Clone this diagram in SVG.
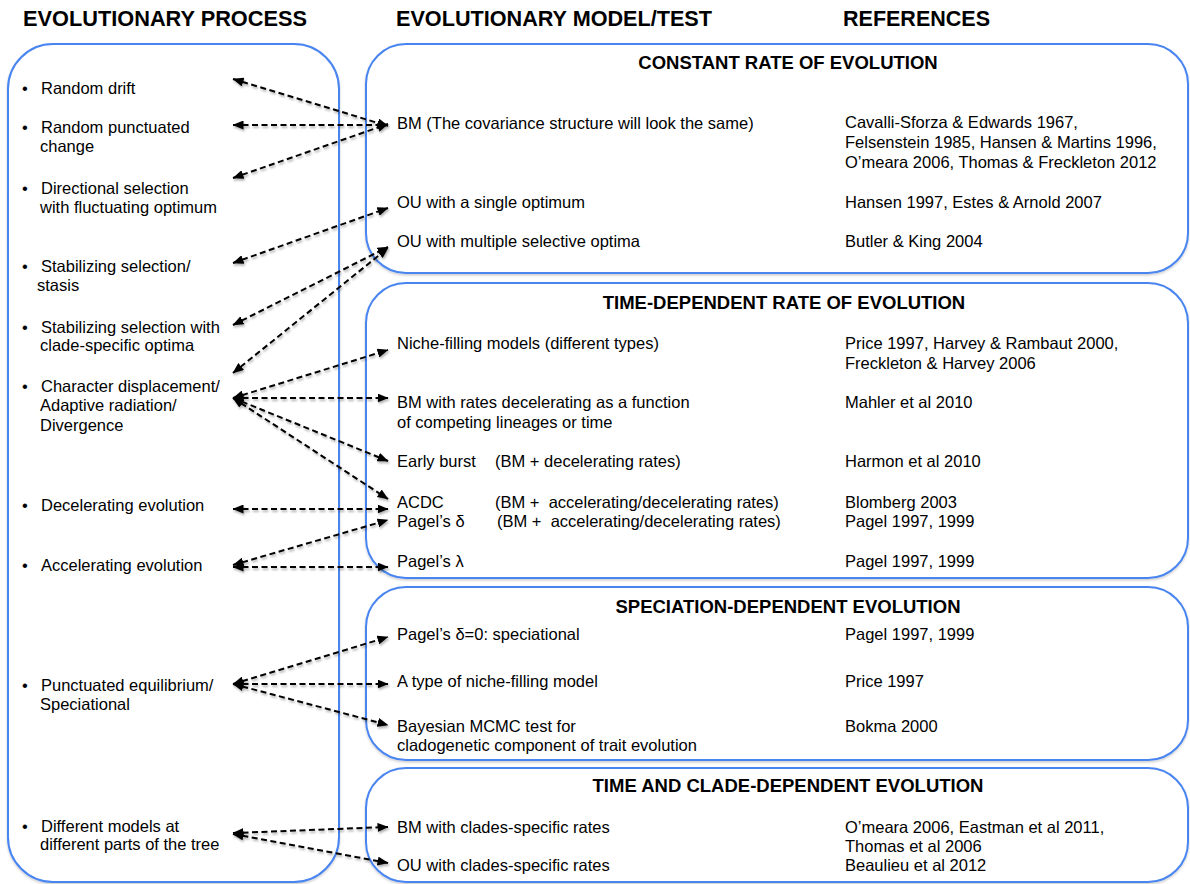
<svg xmlns="http://www.w3.org/2000/svg" width="1190" height="884" viewBox="0 0 1190 884">
<style>
  .hdr { font-family: "Liberation Sans", Arial, sans-serif; font-weight: bold; font-size: 21.7px; fill: #000; }
  .ttl { font-family: "Liberation Sans", Arial, sans-serif; font-weight: bold; font-size: 18.5px; fill: #000; text-anchor: middle; }
  .t { font-family: "Liberation Sans", Arial, sans-serif; font-size: 16.5px; fill: #000; }
  .box { fill: #fff; stroke: #4a85f0; stroke-width: 2; filter: url(#bshadow); }
  .con { fill: none; stroke: #000; stroke-width: 2; stroke-dasharray: 6 3.5; marker-start: url(#ah); marker-end: url(#ah); }
</style>
<defs>
  <marker id="ah" viewBox="0 0 11 9" refX="10.5" refY="4.5" markerWidth="11" markerHeight="9" markerUnits="userSpaceOnUse" orient="auto-start-reverse">
    <path d="M0,0 L11,4.5 L0,9 z" fill="#000"/>
  </marker>
  <filter id="shadow" filterUnits="userSpaceOnUse" x="0" y="0" width="1190" height="884">
    <feDropShadow dx="1" dy="2" stdDeviation="1.2" flood-color="#000" flood-opacity="0.3"/>
  </filter>
  <filter id="bshadow" filterUnits="userSpaceOnUse" x="0" y="0" width="1190" height="884">
    <feDropShadow dx="0" dy="1.5" stdDeviation="1.2" flood-color="#000" flood-opacity="0.2"/>
  </filter>
</defs>
<rect width="1190" height="884" fill="#fff"/>

<g id="headers">
  <text class="hdr" x="23" y="26" textLength="284" lengthAdjust="spacingAndGlyphs">EVOLUTIONARY PROCESS</text>
  <text class="hdr" x="396" y="26" textLength="316" lengthAdjust="spacingAndGlyphs">EVOLUTIONARY MODEL/TEST</text>
  <text class="hdr" x="843" y="26" textLength="147" lengthAdjust="spacingAndGlyphs">REFERENCES</text>
</g>

<g id="process-box"><rect class="box" x="8" y="44" width="331" height="838" rx="45" ry="45"/></g>
<g id="constant-box"><rect class="box" x="366" y="44" width="822" height="229" rx="40" ry="40"/></g>
<g id="time-box"><rect class="box" x="366" y="283" width="822" height="295" rx="40" ry="40"/></g>
<g id="speciation-box"><rect class="box" x="366" y="587" width="822" height="173" rx="40" ry="40"/></g>
<g id="clade-box"><rect class="box" x="366" y="768" width="822" height="114" rx="40" ry="40"/></g>

<g id="connectors" filter="url(#shadow)">
  <line class="con" x1="233" y1="79" x2="388" y2="126"/>
  <line class="con" x1="233" y1="125" x2="388" y2="125"/>
  <line class="con" x1="233" y1="178" x2="388" y2="124"/>
  <line class="con" x1="233" y1="263" x2="388" y2="208"/>
  <line class="con" x1="233" y1="325" x2="388" y2="247"/>
  <line class="con" x1="233" y1="373" x2="388" y2="248"/>
  <line class="con" x1="233" y1="398" x2="388" y2="350"/>
  <line class="con" x1="233" y1="398" x2="388" y2="398"/>
  <line class="con" x1="233" y1="398" x2="388" y2="461"/>
  <line class="con" x1="233" y1="398" x2="388" y2="499"/>
  <line class="con" x1="233" y1="509" x2="388" y2="509"/>
  <line class="con" x1="233" y1="565" x2="388" y2="520"/>
  <line class="con" x1="233" y1="567" x2="388" y2="567"/>
  <line class="con" x1="233" y1="684" x2="388" y2="637"/>
  <line class="con" x1="233" y1="684" x2="388" y2="684"/>
  <line class="con" x1="233" y1="684" x2="388" y2="725"/>
  <line class="con" x1="233" y1="833" x2="388" y2="827"/>
  <line class="con" x1="233" y1="834" x2="388" y2="863"/>
</g>

<g id="process-items">
  <g id="p-drift"><text class="t" x="22" y="94">•</text><text class="t" x="41" y="94">Random drift</text></g>
  <g id="p-punct"><text class="t" x="22" y="133">•</text><text class="t" x="41" y="133">Random punctuated</text><text class="t" x="40" y="152">change</text></g>
  <g id="p-dir"><text class="t" x="22" y="194">•</text><text class="t" x="41" y="194">Directional selection</text><text class="t" x="40" y="213">with fluctuating optimum</text></g>
  <g id="p-stab"><text class="t" x="22" y="272">•</text><text class="t" x="41" y="272">Stabilizing selection/</text><text class="t" x="37" y="291">stasis</text></g>
  <g id="p-stabclade"><text class="t" x="22" y="333">•</text><text class="t" x="41" y="333">Stabilizing selection with</text><text class="t" x="40" y="351">clade-specific optima</text></g>
  <g id="p-char"><text class="t" x="22" y="392">•</text><text class="t" x="41" y="392">Character displacement/</text><text class="t" x="40" y="411">Adaptive radiation/</text><text class="t" x="40" y="431">Divergence</text></g>
  <g id="p-decel"><text class="t" x="22" y="511">•</text><text class="t" x="41" y="511">Decelerating evolution</text></g>
  <g id="p-accel"><text class="t" x="22" y="571">•</text><text class="t" x="41" y="571">Accelerating evolution</text></g>
  <g id="p-punceq"><text class="t" x="22" y="691">•</text><text class="t" x="41" y="691">Punctuated equilibrium/</text><text class="t" x="40" y="710">Speciational</text></g>
  <g id="p-diff"><text class="t" x="22" y="832">•</text><text class="t" x="41" y="832">Different models at</text><text class="t" x="40" y="850">different parts of the tree</text></g>
</g>

<g id="constant-content">
  <text class="ttl" x="788" y="69">CONSTANT RATE OF EVOLUTION</text>
  <g id="m-bm"><text class="t" x="397" y="129">BM (The covariance structure will look the same)</text>
    <text class="t" x="845" y="128">Cavalli-Sforza &amp; Edwards 1967,</text>
    <text class="t" x="845" y="148">Felsenstein 1985, Hansen &amp; Martins 1996,</text>
    <text class="t" x="845" y="168">O’meara 2006, Thomas &amp; Freckleton 2012</text></g>
  <g id="m-ou1"><text class="t" x="397" y="208">OU with a single optimum</text><text class="t" x="845" y="208">Hansen 1997, Estes &amp; Arnold 2007</text></g>
  <g id="m-oum"><text class="t" x="397" y="247">OU with multiple selective optima</text><text class="t" x="845" y="247">Butler &amp; King 2004</text></g>
</g>

<g id="time-content">
  <text class="ttl" x="784" y="309">TIME-DEPENDENT RATE OF EVOLUTION</text>
  <g id="m-niche"><text class="t" x="397" y="349">Niche-filling models (different types)</text>
    <text class="t" x="845" y="349">Price 1997, Harvey &amp; Rambaut 2000,</text>
    <text class="t" x="845" y="369">Freckleton &amp; Harvey 2006</text></g>
  <g id="m-bmdec"><text class="t" x="397" y="408">BM with rates decelerating as a function</text>
    <text class="t" x="397" y="428">of competing lineages or time</text>
    <text class="t" x="845" y="408">Mahler et al 2010</text></g>
  <g id="m-eb"><text class="t" x="397" y="467">Early burst</text><text class="t" x="495" y="467">(BM + decelerating rates)</text><text class="t" x="845" y="467">Harmon et al 2010</text></g>
  <g id="m-acdc"><text class="t" x="397" y="508">ACDC</text><text class="t" x="495" y="508" xml:space="preserve">(BM +  accelerating/decelerating rates)</text><text class="t" x="845" y="508">Blomberg 2003</text></g>
  <g id="m-delta"><text class="t" x="397" y="527">Pagel’s δ</text><text class="t" x="497" y="527" xml:space="preserve">(BM +  accelerating/decelerating rates)</text><text class="t" x="845" y="527">Pagel 1997, 1999</text></g>
  <g id="m-lambda"><text class="t" x="397" y="567">Pagel’s λ</text><text class="t" x="845" y="567">Pagel 1997, 1999</text></g>
</g>

<g id="speciation-content">
  <text class="ttl" x="788" y="613">SPECIATION-DEPENDENT EVOLUTION</text>
  <g id="m-delta0"><text class="t" x="397" y="640">Pagel’s δ=0: speciational</text><text class="t" x="845" y="640">Pagel 1997, 1999</text></g>
  <g id="m-type"><text class="t" x="397" y="687">A type of niche-filling model</text><text class="t" x="845" y="687">Price 1997</text></g>
  <g id="m-bayes"><text class="t" x="397" y="732">Bayesian MCMC test for</text><text class="t" x="397" y="751">cladogenetic component of trait evolution</text><text class="t" x="845" y="732">Bokma 2000</text></g>
</g>

<g id="clade-content">
  <text class="ttl" x="788" y="792">TIME AND CLADE-DEPENDENT EVOLUTION</text>
  <g id="m-bmclade"><text class="t" x="397" y="833">BM with clades-specific rates</text>
    <text class="t" x="845" y="833">O’meara 2006, Eastman et al 2011,</text>
    <text class="t" x="845" y="852">Thomas et al 2006</text></g>
  <g id="m-ouclade"><text class="t" x="397" y="871">OU with clades-specific rates</text><text class="t" x="845" y="871">Beaulieu et al 2012</text></g>
</g>
</svg>
